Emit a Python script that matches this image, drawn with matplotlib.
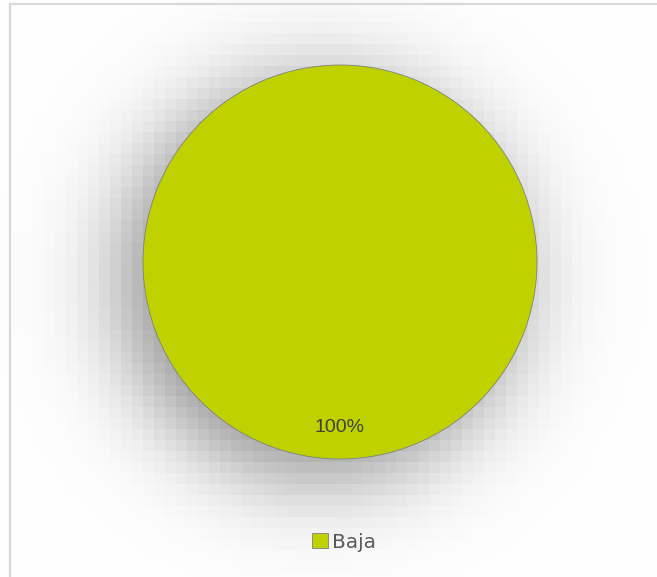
import numpy as np
import matplotlib
matplotlib.use("Agg")
import matplotlib.pyplot as plt

labels = ["Baja"]
values = [100]
colors = ["#BFD200"]

W, H = 657, 577
fig = plt.figure(figsize=(W / 100, H / 100), dpi=100)

# background axes in pixel units: border + blurred shadow
bg = fig.add_axes([0, 0, 1, 1])
bg.set_xlim(0, W)
bg.set_ylim(H, 0)
bg.axis("off")

# blocky soft shadow behind the pie, offset down-left
blk = 11
xs = np.arange(0, W + blk, blk) + blk / 2
ys = np.arange(0, H + blk, blk) + blk / 2
X, Y = np.meshgrid(xs, ys)
d = np.hypot(X - 320, Y - 280) - 195
dark = 0.45 / (1 + np.exp(d / 28.0))
img = np.ones((len(ys), len(xs), 3)) * (1 - dark)[..., None]
bg.imshow(img, extent=(0, len(xs) * blk, len(ys) * blk, 0),
          interpolation="nearest", zorder=0)

bg.plot([9.5, W], [3.5, 3.5], color="#d9d9d9", lw=1.6, zorder=1)
bg.plot([9.5, 9.5], [3.5, H], color="#d9d9d9", lw=1.6, zorder=1)

# pie
cx, cy, r = 340, 262, 197
ax = fig.add_axes([(cx - r) / W, 1 - (cy + r) / H, 2 * r / W, 2 * r / H])
wedges, texts, autotexts = ax.pie(
    values, colors=colors, startangle=90, counterclock=False,
    autopct="%1.0f%%", pctdistance=0.83,
    wedgeprops=dict(edgecolor="#808080", linewidth=0.6),
    textprops=dict(color="#404040", fontsize=14, family="Liberation Sans"))
for t in autotexts:
    t.set_position((0, -0.84))
ax.set_aspect("equal")
ax.set_xlim(-1, 1)
ax.set_ylim(-1, 1)

fig.legend(wedges, labels, loc="center", bbox_to_anchor=(344 / W, 1 - 542 / H),
           frameon=False, handlelength=0.75, handleheight=0.75,
           handletextpad=0.2, borderpad=0,
           prop=dict(family="DejaVu Sans", size=14.5),
           labelcolor="#595959")

fig.savefig("out.png", dpi=100)
